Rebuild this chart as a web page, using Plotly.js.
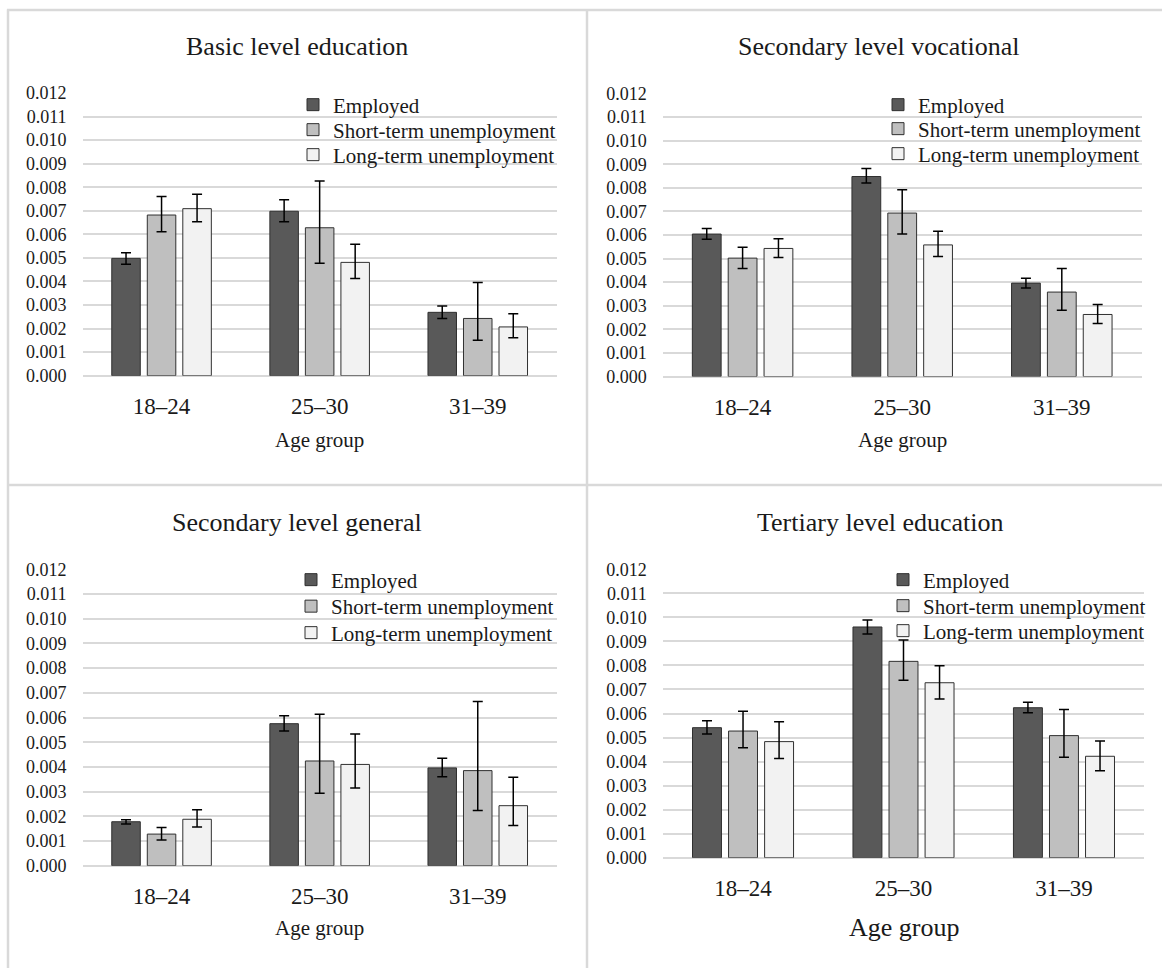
<!DOCTYPE html>
<html>
<head>
<meta charset="utf-8">
<script src="https://cdn.plot.ly/plotly-3.0.1.min.js"></script>
<style>
html,body{margin:0;padding:0;background:#fff;}
#chart{width:1162px;height:968px;}
</style>
</head>
<body>
<div id="chart"></div>
<script>
// ---------- DATA ----------
const ageGroups = ['18–24', '25–30', '31–39'];
const seriesNames = ['Employed', 'Short-term unemployment', 'Long-term unemployment'];
const panelTitles = ['Basic level education', 'Secondary level vocational', 'Secondary level general', 'Tertiary level education'];
const axisTitle = 'Age group';
const yTickValues = [0, 0.001, 0.002, 0.003, 0.004, 0.005, 0.006, 0.007, 0.008, 0.009, 0.010, 0.011, 0.012];

// Basic level education
const basicEmployed      = [0.00498, 0.00698, 0.00269];
const basicEmployedHi    = [0.00522, 0.00747, 0.00296];
const basicEmployedLo    = [0.00473, 0.00654, 0.00243];
const basicShort         = [0.00682, 0.00628, 0.00243];
const basicShortHi       = [0.00761, 0.00826, 0.00396];
const basicShortLo       = [0.00611, 0.00477, 0.00150];
const basicLong          = [0.00709, 0.00481, 0.00207];
const basicLongHi        = [0.00770, 0.00558, 0.00263];
const basicLongLo        = [0.00654, 0.00413, 0.00161];

// Secondary level vocational
const vocEmployed        = [0.00604, 0.00848, 0.00396];
const vocEmployedHi      = [0.00628, 0.00882, 0.00417];
const vocEmployedLo      = [0.00582, 0.00820, 0.00375];
const vocShort           = [0.00502, 0.00693, 0.00358];
const vocShortHi         = [0.00548, 0.00792, 0.00458];
const vocShortLo         = [0.00458, 0.00604, 0.00281];
const vocLong            = [0.00543, 0.00558, 0.00263];
const vocLongHi          = [0.00584, 0.00616, 0.00305];
const vocLongLo          = [0.00505, 0.00509, 0.00225];

// Secondary level general
const genEmployed        = [0.00178, 0.00575, 0.00396];
const genEmployedHi      = [0.00186, 0.00607, 0.00435];
const genEmployedLo      = [0.00169, 0.00545, 0.00360];
const genShort           = [0.00128, 0.00424, 0.00385];
const genShortHi         = [0.00155, 0.00613, 0.00665];
const genShortLo         = [0.00104, 0.00293, 0.00223];
const genLong            = [0.00188, 0.00410, 0.00243];
const genLongHi          = [0.00227, 0.00533, 0.00358];
const genLongLo          = [0.00157, 0.00315, 0.00163];

// Tertiary level education
const terEmployed        = [0.00541, 0.00960, 0.00624];
const terEmployedHi      = [0.00570, 0.00989, 0.00647];
const terEmployedLo      = [0.00515, 0.00931, 0.00603];
const terShort           = [0.00527, 0.00817, 0.00508];
const terShortHi         = [0.00609, 0.00906, 0.00617];
const terShortLo         = [0.00458, 0.00738, 0.00418];
const terLong            = [0.00483, 0.00728, 0.00422];
const terLongHi          = [0.00566, 0.00799, 0.00486];
const terLongLo          = [0.00413, 0.00660, 0.00362];

// ---------- BUILD ----------
const panels = [
  [[basicEmployed, basicEmployedHi, basicEmployedLo], [basicShort, basicShortHi, basicShortLo], [basicLong, basicLongHi, basicLongLo]],
  [[vocEmployed, vocEmployedHi, vocEmployedLo], [vocShort, vocShortHi, vocShortLo], [vocLong, vocLongHi, vocLongLo]],
  [[genEmployed, genEmployedHi, genEmployedLo], [genShort, genShortHi, genShortLo], [genLong, genLongHi, genLongLo]],
  [[terEmployed, terEmployedHi, terEmployedLo], [terShort, terShortHi, terShortLo], [terLong, terLongHi, terLongLo]]
];

const W = 1162, H = 968;
const px = x => x / W;
const py = y => 1 - y / H;
const FONT = 'Liberation Serif, Times New Roman, serif';
const TXT = '#1a1a1a';
const colors = ['#595959', '#bfbfbf', '#f2f2f2'];

// layout geometry per panel (pixels)
const geo = [
  {x0: 82.5, x1: 556.8, y0: 93, y1: 375.7, titleX: 297, titleY: 46, axY: 440, axSize: 21, legX: 293, legY: [105, 130, 155]},
  {x0: 662.8, x1: 1141.6, y0: 93.5, y1: 376.5, titleX: 879, titleY: 46, axY: 440, axSize: 21, legX: 878, legY: [105, 129, 154]},
  {x0: 82.5, x1: 556.8, y0: 569.3, y1: 865.7, titleX: 297, titleY: 522, axY: 928, axSize: 21, legX: 291, legY: [580, 606.5, 633]},
  {x0: 662.8, x1: 1144.2, y0: 569.3, y1: 857.7, titleX: 880, titleY: 522, axY: 927, axSize: 26, legX: 883, legY: [580, 606, 631]}
];

const traces = [];
const layout = {
  width: W, height: H,
  margin: {l: 0, r: 0, t: 0, b: 0},
  paper_bgcolor: '#ffffff',
  plot_bgcolor: 'rgba(0,0,0,0)',
  font: {family: FONT, color: TXT},
  showlegend: true,
  barmode: 'group',
  bargap: 0.326,
  bargroupgap: 0.197,
  annotations: [],
  shapes: []
};

panels.forEach((series, p) => {
  const g = geo[p];
  const xa = p === 0 ? 'x' : 'x' + (p + 1);
  const ya = p === 0 ? 'y' : 'y' + (p + 1);
  series.forEach((s, k) => {
    const [mean, hi, lo] = s;
    const idx = p * 3 + k;
    const legName = idx === 0 ? 'legend' : 'legend' + (idx + 1);
    traces.push({
      type: 'bar',
      name: seriesNames[k],
      x: ageGroups,
      y: mean,
      xaxis: xa, yaxis: ya,
      legend: legName,
      showlegend: true,
      marker: {color: colors[k], line: {color: '#303030', width: 1}},
      error_y: {
        type: 'data', symmetric: false,
        array: mean.map((m, i) => hi[i] - m),
        arrayminus: mean.map((m, i) => m - lo[i]),
        color: '#000000', thickness: 1.5, width: 5
      },
      hoverinfo: 'skip'
    });
    layout[legName] = {
      x: px(g.legX), y: py(g.legY[k]),
      xanchor: 'left', yanchor: 'middle',
      bgcolor: 'rgba(0,0,0,0)', borderwidth: 0,
      font: {family: FONT, size: 21, color: TXT},
      itemwidth: 30
    };
  });
  layout['xaxis' + (p === 0 ? '' : p + 1)] = {
    domain: [px(g.x0), px(g.x1)],
    anchor: ya,
    type: 'category',
    showgrid: false, showline: false, zeroline: false,
    ticks: '',
    tickfont: {family: FONT, size: 23, color: TXT},
    ticklabelstandoff: 14,
    fixedrange: true
  };
  layout['yaxis' + (p === 0 ? '' : p + 1)] = {
    domain: [py(g.y1), py(g.y0)],
    anchor: xa,
    range: [0, 0.012],
    tickvals: yTickValues,
    tickformat: '.3f',
    showgrid: true, gridcolor: '#d9d9d9', gridwidth: 2,
    zeroline: true, zerolinecolor: '#d9d9d9', zerolinewidth: 2,
    showline: false, ticks: '',
    tickfont: {family: FONT, size: 18, color: TXT},
    ticklabelstandoff: 15,
    fixedrange: true
  };
  layout.annotations.push({
    xref: 'paper', yref: 'paper', x: px(g.titleX), y: py(g.titleY),
    xanchor: 'center', yanchor: 'middle', showarrow: false,
    text: panelTitles[p], font: {family: FONT, size: 26, color: TXT}
  });
  layout.annotations.push({
    xref: 'paper', yref: 'paper', x: px((g.x0 + g.x1) / 2), y: py(g.axY),
    xanchor: 'center', yanchor: 'middle', showarrow: false,
    text: axisTitle, font: {family: FONT, size: g.axSize, color: TXT}
  });
});

// panel frame lines
const frame = {color: '#d9d9d9', width: 2.5};
layout.shapes.push(
  {type: 'line', xref: 'paper', yref: 'paper', x0: px(8), x1: px(8), y0: py(9.5), y1: 0, line: frame},
  {type: 'line', xref: 'paper', yref: 'paper', x0: px(587), x1: px(587), y0: py(9.5), y1: 0, line: frame},
  {type: 'line', xref: 'paper', yref: 'paper', x0: px(7), x1: 1, y0: py(10), y1: py(10), line: frame},
  {type: 'line', xref: 'paper', yref: 'paper', x0: px(7), x1: 1, y0: py(485), y1: py(485), line: frame}
);

Plotly.newPlot('chart', traces, layout, {displayModeBar: false, staticPlot: true});
</script>
</body>
</html>
